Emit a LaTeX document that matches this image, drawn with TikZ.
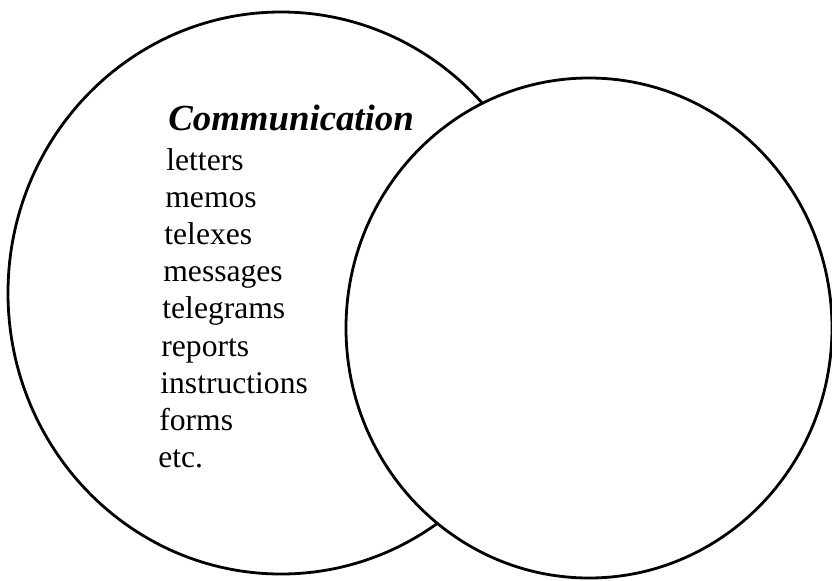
\documentclass[tikz,border=0pt]{standalone}
\usepackage{fontspec}
\setmainfont{Liberation Serif}
\usepackage{tikz}
\tikzset{heading/.style={anchor=base west, inner sep=0pt, font=\fontsize{18.4}{20}\selectfont\bfseries\itshape}, item/.style={anchor=base west, inner sep=0pt, font=\fontsize{15.8}{17}\selectfont}, ring/.style={line width=1.4pt}}

\begin{document}
\begin{tikzpicture}[x=0.5pt, y=-0.5pt]
      \useasboundingbox (0,0) rectangle (832,580);
      \draw [ring] (281,293) ellipse [x radius=273, y radius=281];
      \filldraw [ring, fill=white] (589,328) ellipse [x radius=243, y radius=250];
      \node [heading] (title) at (168,130) {Communication};
      \foreach \word [count=\i from 0] in {letters,memos,telexes,messages,telegrams,reports,instructions,forms,etc.}
        \node [item] (item\i) at (166-\i,170+37.2*\i) {\word};
    \end{tikzpicture}
\end{document}
